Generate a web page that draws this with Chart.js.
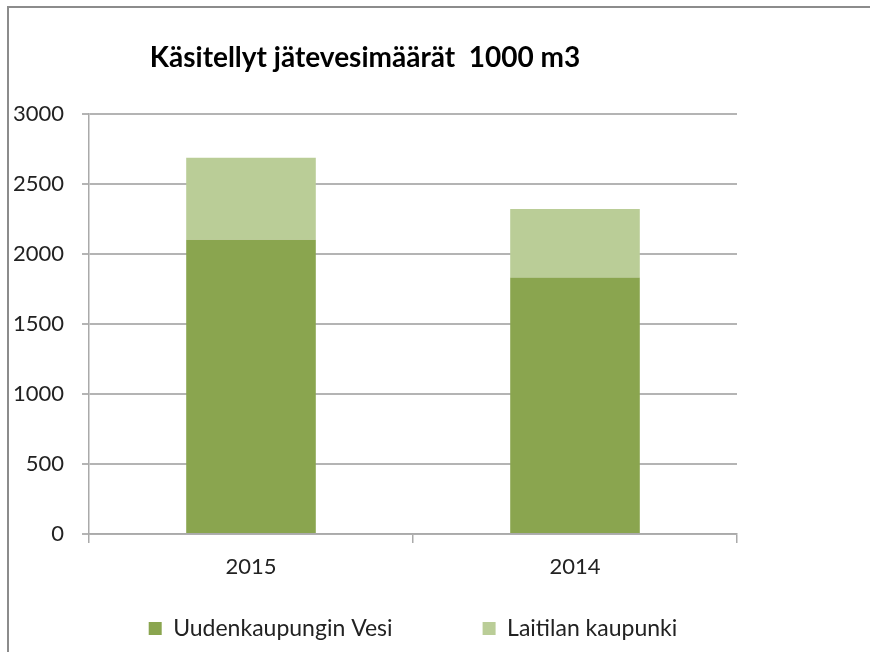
<!DOCTYPE html>
<html>
<head>
<meta charset="utf-8">
<script src="https://cdn.jsdelivr.net/npm/chart.js@4.4.1/dist/chart.umd.min.js"></script>
<style>
  html,body{margin:0;padding:0;background:#fff;overflow:hidden;}
  .frame{position:absolute;left:7px;top:6px;width:900px;height:700px;border-left:2px solid #8c8c8c;border-top:2px solid #8c8c8c;}
  .wrap{position:absolute;left:-7px;top:0;width:877px;height:652px;}
</style>
</head>
<body>
<div class="frame"></div>
<div class="wrap"><canvas id="myChart"></canvas></div>
<script>
// data
const years = ['2015', '2014']
const uusikaupunki = [2100, 1830]
const laitila = [585, 490]
const yTicks = [0, 500, 1000, 1500, 2000, 2500, 3000]

const FONT = 'Lato, "Open Sans", sans-serif'
const legendGap = 90

// spread the two legend items further apart than labels.padding allows in one row
const spreadLegend = {
  id: 'spreadLegend',
  beforeDraw(chart) {
    const lg = chart.legend
    const p0 = lg.options.labels.padding
    const extra = legendGap - p0
    if (extra <= 0) return
    lg.options.labels.padding = legendGap
    lg.top -= extra
    lg.right += 100
    lg.lineWidths[0] += 2 * extra + 100
  }
}

var ctx = document.getElementById('myChart')
var myChart = new Chart(ctx, {
  type: 'bar',
  data: {
    labels: years,
    datasets: [{
      label: 'Uudenkaupungin Vesi',
      data: uusikaupunki,
      backgroundColor: '#8aa54f',
      barPercentage: 0.4,
      categoryPercentage: 1
    }, {
      label: 'Laitilan kaupunki',
      data: laitila,
      backgroundColor: '#bacd97',
      barPercentage: 0.4,
      categoryPercentage: 1
    }]
  },
  plugins: [spreadLegend],
  options: {
    responsive: true,
    maintainAspectRatio: false,
    animation: false,
    layout: {padding: {left: 0, right: 133, top: 0, bottom: 2}},
    plugins: {
      title: {
        display: true,
        text: 'Käsitellyt jätevesimäärät  1000 m3',
        color: '#000',
        font: {family: FONT, size: 28, weight: 'bold'},
        padding: {top: 41, bottom: 39}
      },
      legend: {
        position: 'bottom',
        fullSize: false,
        labels: {
          color: '#222',
          font: {family: FONT, size: 23},
          boxWidth: 13,
          boxHeight: 13,
          padding: 10
        }
      },
      tooltip: {enabled: false}
    },
    scales: {
      x: {
        stacked: true,
        grid: {drawOnChartArea: false, color: '#aaa', lineWidth: 1.5, tickLength: 9, offset: true},
        border: {color: '#aaa', width: 1.5},
        ticks: {color: '#222', font: {family: FONT, size: 22}, padding: 11},
        afterFit: (scale) => { scale.height = 73 }
      },
      y: {
        stacked: true,
        min: 0,
        max: 3000,
        afterBuildTicks: (scale) => { scale.ticks = yTicks.map(v => ({value: v})) },
        grid: {color: '#b4b4b4', lineWidth: 2, tickLength: 7},
        border: {color: '#aaa', width: 1.5},
        ticks: {color: '#222', font: {family: FONT, size: 22}, padding: 18, callback: (v) => String(v)},
        afterFit: (scale) => { scale.width = 96 }
      }
    }
  }
})
</script>
</body>
</html>
